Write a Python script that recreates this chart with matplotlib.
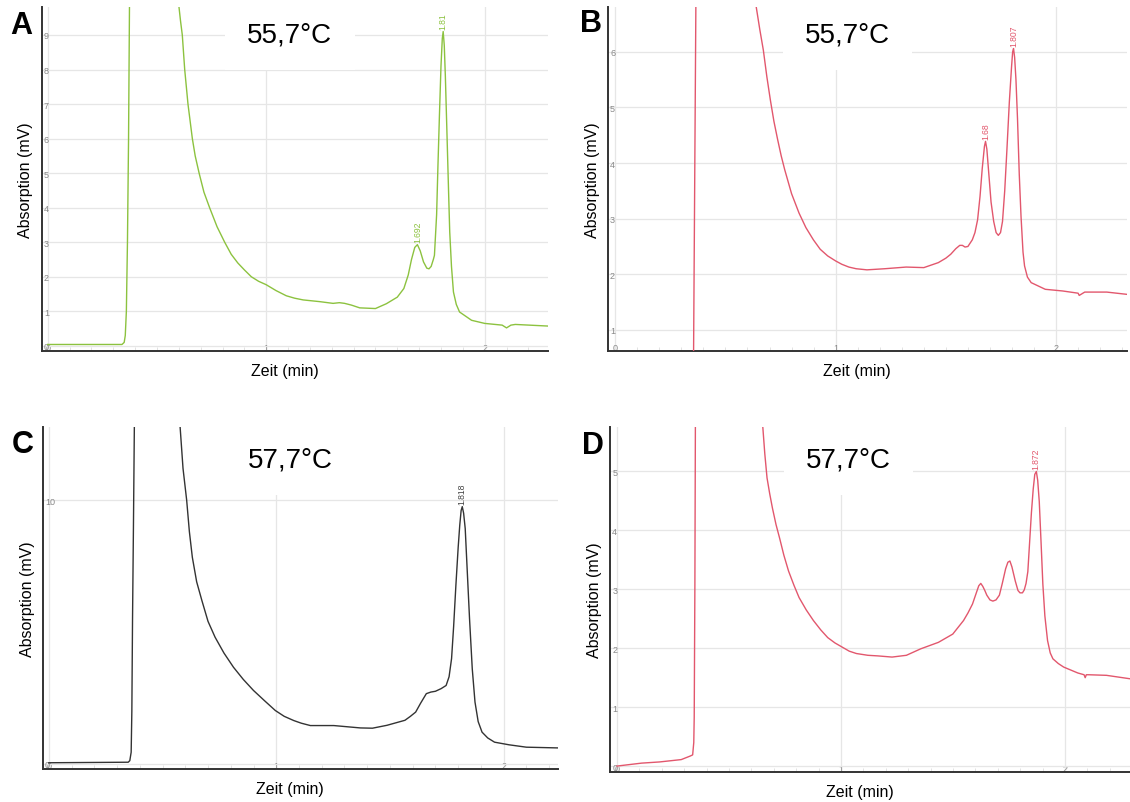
import numpy as np
import matplotlib
matplotlib.use("Agg")
import matplotlib.pyplot as plt
from matplotlib.ticker import MultipleLocator

plt.rcParams['font.family'] = ['Liberation Sans', 'DejaVu Sans']

# Chromatogram traces (time in min, absorption in mV)
t_a = [0.0, 0.34, 0.35, 0.355, 0.36, 0.365, 0.37, 0.375, 0.38, 0.5, 0.58,
       0.601, 0.608, 0.616, 0.627, 0.642, 0.662, 0.675, 0.693, 0.715, 0.741, 0.775,
       0.81, 0.84, 0.87, 0.9, 0.932, 0.965, 1.0, 1.045, 1.092, 1.13, 1.169, 1.245,
       1.306, 1.335, 1.359, 1.39, 1.428, 1.5, 1.55, 1.6, 1.63, 1.65, 1.665, 1.68,
       1.692, 1.705, 1.72, 1.735, 1.745, 1.755, 1.765, 1.77, 1.78, 1.786, 1.793,
       1.80, 1.806, 1.81, 1.815, 1.82, 1.828, 1.835, 1.84, 1.848, 1.857, 1.87,
       1.885, 1.94, 2.0, 2.08, 2.1, 2.12, 2.14, 2.30]
abs_a = [0.04, 0.04, 0.1, 0.3, 1.0, 3.0, 6.0, 10.5, 25, 40, 14,
         9.8, 9.4, 9.0, 8.0, 7.0, 6.0, 5.5, 5.0, 4.45, 4.0, 3.45,
         3.0, 2.65, 2.4, 2.2, 2.0, 1.87, 1.77, 1.6, 1.45, 1.38, 1.33, 1.28,
         1.23, 1.25, 1.23, 1.18, 1.10, 1.08, 1.22, 1.41, 1.66, 2.05, 2.5, 2.85,
         2.93, 2.75, 2.43, 2.25, 2.23, 2.3, 2.5, 2.62, 3.8, 5.2, 6.7,
         8.1, 8.9, 9.1, 8.7, 7.8, 6.0, 4.4, 3.3, 2.3, 1.56, 1.2,
         0.98, 0.74, 0.65, 0.60, 0.52, 0.60, 0.62, 0.57]

t_b = [0.355, 0.366, 0.372, 0.45, 0.60, 0.64, 0.656, 0.672, 0.688, 0.704, 0.72,
       0.737, 0.753, 0.769, 0.80, 0.834, 0.865, 0.899, 0.93, 0.964, 1.0, 1.028,
       1.06, 1.093, 1.142, 1.223, 1.32, 1.40, 1.466, 1.50, 1.522, 1.545, 1.563,
       1.575, 1.587, 1.60, 1.62, 1.632, 1.644, 1.655, 1.665, 1.675, 1.68, 1.686,
       1.693, 1.705, 1.717, 1.728, 1.738, 1.748, 1.757, 1.767, 1.777, 1.788, 1.798,
       1.803, 1.807, 1.812, 1.818, 1.825, 1.833, 1.841, 1.85, 1.857, 1.87, 1.887,
       1.951, 2.03, 2.10, 2.105, 2.13, 2.23, 2.32]
abs_b = [0.3, 6.9, 30, 40, 12, 6.8, 6.4, 6.03, 5.55, 5.13, 4.75,
         4.42, 4.13, 3.88, 3.45, 3.10, 2.84, 2.62, 2.45, 2.33, 2.24, 2.18,
         2.13, 2.10, 2.08, 2.10, 2.13, 2.12, 2.21, 2.29, 2.36, 2.46, 2.52,
         2.52, 2.49, 2.5, 2.62, 2.75, 2.98, 3.4, 3.9, 4.3, 4.39, 4.25,
         3.9, 3.3, 2.95, 2.75, 2.70, 2.75, 2.95, 3.5, 4.24, 5.1, 5.73,
         6.0, 6.06, 5.9, 5.5, 4.8, 3.8, 3.04, 2.4, 2.15, 1.95, 1.85,
         1.73, 1.70, 1.66, 1.62, 1.68, 1.68, 1.64]

t_c = [0.0, 0.349, 0.356, 0.362, 0.365, 0.368, 0.372, 0.376, 0.40, 0.5, 0.56,
       0.577, 0.59, 0.606, 0.618, 0.631, 0.65, 0.673, 0.70, 0.731, 0.77, 0.812,
       0.855, 0.900, 0.95, 0.996, 1.035, 1.077, 1.11, 1.15, 1.253, 1.37, 1.423,
       1.487, 1.566, 1.59, 1.613, 1.635, 1.66, 1.68, 1.70, 1.725, 1.747, 1.76,
       1.771, 1.78, 1.79, 1.80, 1.807, 1.813, 1.818, 1.824, 1.831, 1.84, 1.85,
       1.862, 1.874, 1.888, 1.905, 1.93, 1.96, 2.024, 2.10, 2.25]
abs_c = [0.04, 0.06, 0.12, 0.44, 2.0, 5.5, 9.0, 12.8, 30, 40, 16,
         12.8, 11.2, 10.0, 8.8, 7.83, 6.9, 6.19, 5.4, 4.8, 4.2, 3.66,
         3.2, 2.78, 2.38, 2.02, 1.8, 1.64, 1.54, 1.45, 1.45, 1.36, 1.35,
         1.46, 1.65, 1.8, 1.96, 2.3, 2.66, 2.72, 2.75, 2.85, 2.97, 3.3,
         3.99, 5.2, 6.77, 8.2, 9.05, 9.6, 9.75, 9.5, 8.92, 7.3, 5.5,
         3.6, 2.34, 1.6, 1.2, 0.98, 0.82, 0.72, 0.63, 0.6]

t_d = [0.0, 0.11, 0.19, 0.287, 0.327, 0.338, 0.343, 0.345, 0.348, 0.352, 0.36, 0.5,
       0.62, 0.651, 0.66, 0.670, 0.682, 0.694, 0.71, 0.726, 0.745, 0.766, 0.79,
       0.813, 0.845, 0.877, 0.91, 0.941, 0.973, 1.005, 1.037, 1.069, 1.12, 1.164,
       1.228, 1.292, 1.356, 1.435, 1.499, 1.547, 1.567, 1.587, 1.605, 1.615, 1.624,
       1.633, 1.642, 1.651, 1.665, 1.678, 1.692, 1.707, 1.72, 1.735, 1.745, 1.754,
       1.763, 1.778, 1.79, 1.799, 1.81, 1.818, 1.826, 1.834, 1.842, 1.85, 1.858,
       1.865, 1.872, 1.878, 1.885, 1.893, 1.901, 1.91, 1.922, 1.934, 1.946, 1.97,
       1.994, 2.057, 2.085, 2.09, 2.095, 2.105, 2.185, 2.293]
abs_d = [0.0, 0.05, 0.07, 0.11, 0.17, 0.19, 0.4, 0.83, 3.09, 8.0, 20, 30,
         8.5, 5.76, 5.3, 4.89, 4.62, 4.38, 4.1, 3.87, 3.58, 3.31, 3.07,
         2.86, 2.65, 2.47, 2.31, 2.18, 2.09, 2.02, 1.95, 1.91, 1.88, 1.87,
         1.85, 1.88, 1.99, 2.10, 2.24, 2.47, 2.6, 2.75, 2.95, 3.06, 3.10,
         3.05, 2.98, 2.90, 2.82, 2.80, 2.82, 2.9, 3.1, 3.35, 3.46, 3.48,
         3.38, 3.14, 2.98, 2.94, 2.94, 2.99, 3.1, 3.3, 3.8, 4.3, 4.7,
         4.95, 5.0, 4.85, 4.49, 3.8, 3.09, 2.55, 2.13, 1.92, 1.82, 1.74,
         1.68, 1.58, 1.55, 1.50, 1.55, 1.55, 1.54, 1.48]

# labelled peaks (retention time, height)
peaks_a = [(1.692, 2.93), (1.81, 9.1)]
peaks_b = [(1.68, 4.39), (1.807, 6.06)]
peaks_c = [(1.818, 9.75)]
peaks_d = [(1.872, 5.0)]
peak_text_a = ['1.692', '1.81']
peak_text_b = ['1.68', '1.807']
peak_text_c = ['1.818']
peak_text_d = ['1.872']

letters = ['A', 'B', 'C', 'D']
temps = ['55,7°C', '55,7°C', '57,7°C', '57,7°C']

panels = [
    dict(t=t_a, y=abs_a, peaks=peaks_a, ptext=peak_text_a, color='#8cc23f', pcolor='#8cc23f',
         rect=[0.037, 0.5616, 0.448, 0.428], xlim=(-0.027, 2.29), ylim=(-0.15, 9.8),
         ystep=1, tpos=(0.49, 0.92), lpos=(0.019, 0.967)),
    dict(t=t_b, y=abs_b, peaks=peaks_b, ptext=peak_text_b, color='#e2576d', pcolor='#e2576d',
         rect=[0.538, 0.5616, 0.459, 0.428], xlim=(-0.033, 2.32), ylim=(0.62, 6.8),
         ystep=1, tpos=(0.462, 0.92), lpos=(0.523, 0.970)),
    dict(t=t_c, y=abs_c, peaks=peaks_c, ptext=peak_text_c, color='#333333', pcolor='#444444',
         rect=[0.038, 0.041, 0.456, 0.426], xlim=(-0.026, 2.24), ylim=(-0.2, 12.77),
         ystep=10, tpos=(0.48, 0.904), lpos=(0.020, 0.446)),
    dict(t=t_d, y=abs_d, peaks=peaks_d, ptext=peak_text_d, color='#e2576d', pcolor='#e2576d',
         rect=[0.540, 0.0374, 0.460, 0.430], xlim=(-0.03, 2.29), ylim=(-0.1, 5.76),
         ystep=1, tpos=(0.458, 0.904), lpos=(0.525, 0.445)),
]

fig = plt.figure(figsize=(11.3, 8.03), dpi=100)

for p, letter, temp in zip(panels, letters, temps):
    ax = fig.add_axes(p['rect'])
    ax.plot(p['t'], p['y'], color=p['color'], lw=1.0, zorder=3)
    ax.set_xlim(*p['xlim'])
    ax.set_ylim(*p['ylim'])

    ax.xaxis.set_major_locator(MultipleLocator(1))
    ax.xaxis.set_minor_locator(MultipleLocator(0.1))
    ax.yaxis.set_major_locator(MultipleLocator(p['ystep']))
    ax.grid(True, which='major', color='#e6e6e6', lw=0.9, zorder=0)
    ax.set_axisbelow(True)

    for side in ['top', 'right']:
        ax.spines[side].set_visible(False)
    for side in ['left', 'bottom']:
        ax.spines[side].set_color('#333333')
        ax.spines[side].set_linewidth(1.4)

    # tick labels sit inside the plot area, small and grey
    ax.tick_params(axis='y', which='major', length=0, pad=-1.5, labelsize=6.5, labelcolor='#888888')
    ax.tick_params(axis='x', which='major', length=0, pad=-6, labelsize=6.5, labelcolor='#888888')
    ax.tick_params(axis='x', which='minor', direction='in', length=3, color='#dddddd')
    for lab in ax.get_yticklabels():
        lab.set_horizontalalignment('left')

    ax.set_xlabel('Zeit (min)', fontsize=11.5, labelpad=5, x=0.48)
    ax.set_ylabel('Absorption (mV)', fontsize=11.5, labelpad=6)

    for (pt, ph), txt in zip(p['peaks'], p['ptext']):
        ax.annotate(txt, (pt, ph), xytext=(0, 2), textcoords='offset points',
                    rotation=90, ha='center', va='bottom', fontsize=6.2,
                    color=p['pcolor'], zorder=4)

    ax.text(p['tpos'][0], p['tpos'][1], temp, transform=ax.transAxes,
            ha='center', va='center', fontsize=20, color='black', zorder=5,
            bbox=dict(facecolor='white', edgecolor='none', boxstyle='square,pad=0.8'))

    fig.text(p['lpos'][0], p['lpos'][1], letter, ha='center', va='center',
             fontsize=22, fontweight='bold')

fig.savefig('out.png', dpi=100)
